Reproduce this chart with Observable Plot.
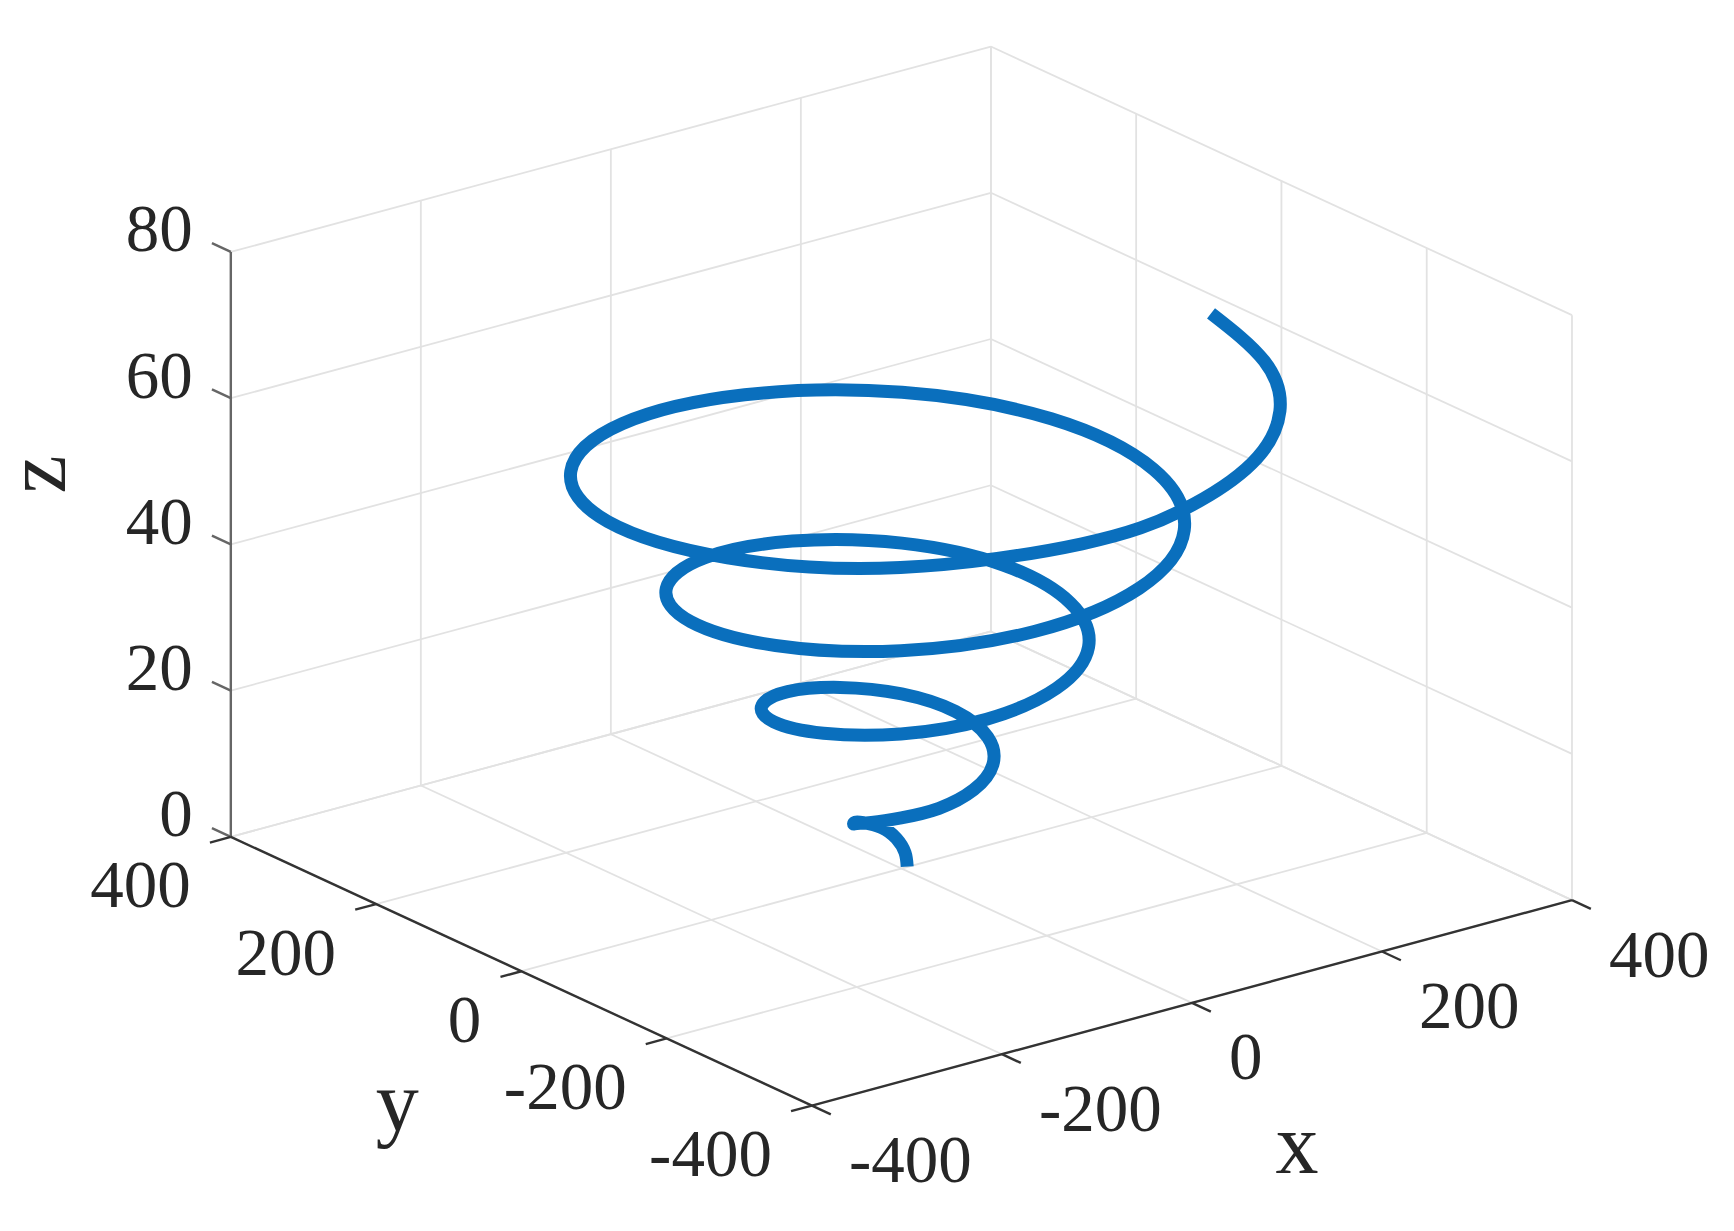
<!DOCTYPE html>
<html>
<head>
<meta charset="utf-8">
<style>html,body{margin:0;padding:0;background:#fff}svg{display:block;filter:blur(0.5px)}</style>
<script src="https://cdn.jsdelivr.net/npm/d3@7"></script>
<script src="https://cdn.jsdelivr.net/npm/@observablehq/plot@0.6"></script>
</head>
<body>
<div id="chart"></div>
<script>
const xyTicks = [-400, -200, 0, 200, 400];
const zTicks = [0, 20, 40, 60, 80];
const helixX = [6.7,12.8,14.6,7.9,-7.5,-20.4,-31.7,-42.7,-46,-34.4,-8.2,26.8,60.6,82.4,83,58.8,13.5,-42.1,-92.4,-122,-120,-83.2,-18.7,57.4,124.1,161.7,157,107.5,24,-72.7,-155.9,-201.3,-193.9,-131.9,-29.2,88,187.5,241,230.9,156.2,34.4,-103.3,-219.2,-280.6,-267.8,-180.6,-39.6,66.6,167.7,251,304.1,332];
const helixY = [0.8,11.8,25.9,37.7,42.5,36.5,24.4,5.6,-19,-44.8,-62.6,-64.6,-46.6,-10.9,34.4,76.5,102.2,101.5,71,16.1,-49.8,-108.2,-141.8,-138.5,-95.3,-21.3,65,139.9,181.5,175.4,119.7,26.6,-80.3,-171.7,-221.1,-212.4,-144.1,-31.8,95.7,203.4,260.8,249.3,168.4,37.1,-110.9,-235.1,-300.4,-300.3,-263.2,-192.8,-101.8,8];
const helixZ = [0,1.2,2.4,3.6,4.6,5.4,6.1,7.4,8.8,10.2,11.4,12.8,14.2,15.6,17,18.3,19.6,21,22.3,23.6,25,26.3,27.6,29,30.3,31.6,33,34.3,35.6,37,38.3,39.6,41,42.3,43.6,45,46.3,47.6,49,50.3,51.6,53,54.3,55.6,57,58.3,59.6,60.5,61.6,62.6,63.4,63.9];

// Orthographic view of the 3D axes
const az = 37.4 * Math.PI / 180, el = 20.7 * Math.PI / 180, zStretch = 6.114;
const U = (x, y) => x * Math.cos(az) - y * Math.sin(az);
const V = (x, y, z) => (x * Math.sin(az) + y * Math.cos(az)) * Math.sin(el) + z * zStretch;
const helix = helixX.map((x, i) => ({x, y: helixY[i], z: helixZ[i]}));

const seg = (a, b) => ({x1: U(a[0], a[1]), y1: V(a[0], a[1], a[2]), x2: U(b[0], b[1]), y2: V(b[0], b[1], b[2])});
const lo = -400, hi = 400, zmax = 80;
const grid = [
  ...zTicks.flatMap(z => [seg([lo, hi, z], [hi, hi, z]), seg([hi, hi, z], [hi, lo, z])]),
  ...xyTicks.flatMap(t => [
    seg([t, hi, 0], [t, hi, zmax]), seg([hi, t, 0], [hi, t, zmax]),
    seg([t, lo, 0], [t, hi, 0]), seg([lo, t, 0], [hi, t, 0])
  ])
];
const tickLen = 26;
const axesXY = [
  seg([lo, hi, 0], [lo, lo, 0]), seg([lo, lo, 0], [hi, lo, 0]),
  ...xyTicks.map(t => seg([t, lo, 0], [t, lo - tickLen, 0])),
  ...xyTicks.map(t => seg([lo, t, 0], [lo - tickLen + 4, t, 0]))
];
const axesZ = [seg([lo, hi, 0], [lo, hi, zmax]), ...zTicks.map(z => seg([lo, hi, z], [lo, hi + tickLen, z]))];

const font = "'Liberation Serif', serif", ink = "#262626";
const label = (rows, o) => Plot.text(rows, {text: d => String(d.t), x: d => U(d.p[0], d.p[1]), y: d => V(d.p[0], d.p[1], d.p[2]), fontFamily: font, fontSize: 67, fill: ink, ...o});

const plot = Plot.plot({
  width: 1734, height: 1231, margin: 0,
  x: {domain: [-753.3, 696.6], range: [0, 1734], axis: null},
  y: {domain: [-303.5, 725.8], range: [1231, 0], axis: null},
  style: {background: "#fff"},
  marks: [
    Plot.link(grid, {x1: "x1", y1: "y1", x2: "x2", y2: "y2", stroke: "#e2e2e2", strokeWidth: 1.8}),
    Plot.link(axesZ, {x1: "x1", y1: "y1", x2: "x2", y2: "y2", stroke: "#666", strokeWidth: 2.4}),
    Plot.link(axesXY, {x1: "x1", y1: "y1", x2: "x2", y2: "y2", stroke: "#333", strokeWidth: 2.4}),
    Plot.line(helix, {x: d => U(d.x, d.y), y: d => V(d.x, d.y, d.z), curve: "natural", stroke: "#0a6fbd", strokeWidth: 13, strokeLinecap: "butt", strokeLinejoin: "round"}),
    label(xyTicks.map(t => ({t, p: [t, lo, 0]})), {textAnchor: "start", dx: 37, dy: 55}),
    label(xyTicks.map(t => ({t, p: [lo, t, 0]})), {textAnchor: "end", dx: -40, dy: 49}),
    label(zTicks.map(t => ({t, p: [lo, hi, t]})), {textAnchor: "end", dx: -38, dy: -22}),
    label([{t: "x", p: [0, lo, 0]}], {fontSize: 86, dx: 105, dy: 143}),
    label([{t: "y", p: [lo, 0, 0]}], {fontSize: 86, dx: -124, dy: 131}),
    label([{t: "z", p: [lo, hi, 40]}], {fontSize: 86, dx: -193, dy: -70, rotate: -90})
  ]
});
document.getElementById("chart").appendChild(plot);
</script>
</body>
</html>
